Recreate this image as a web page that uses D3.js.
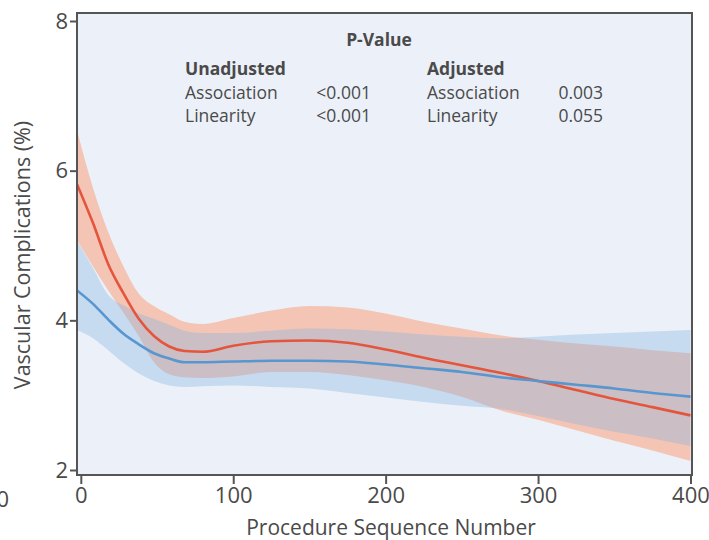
<!DOCTYPE html>
<html>
<head>
<meta charset="utf-8">
<script src="https://cdn.jsdelivr.net/npm/d3@7"></script>
<style>
  body { margin: 0; background: #fff; }
  text { font-family: "Open Sans", "Noto Sans", sans-serif; fill: #4a4a4a; }
</style>
</head>
<body>
<svg id="canvas" width="709" height="540"></svg>
<script>
// procedure sequence number grid (first point sits on the left frame)
const seqNum = [-2.5, 8, 18, 28, 38, 48, 58, 68, 80, 100, 125, 150, 175, 200, 225, 250, 275, 300, 325, 350, 375, 400]

// red curve + band
const redMid   = [5.82, 5.30, 4.75, 4.36, 4.02, 3.79, 3.65, 3.59, 3.58, 3.66, 3.72, 3.73, 3.70, 3.61, 3.50, 3.40, 3.30, 3.19, 3.07, 2.95, 2.84, 2.73]
const redUpper = [6.54, 5.77, 5.18, 4.72, 4.36, 4.19, 4.08, 3.98, 3.95, 4.03, 4.13, 4.19, 4.17, 4.09, 3.98, 3.89, 3.80, 3.74, 3.69, 3.65, 3.60, 3.56]
const redLower = [5.07, 4.72, 4.40, 4.10, 3.79, 3.44, 3.28, 3.24, 3.23, 3.25, 3.31, 3.31, 3.27, 3.20, 3.11, 2.98, 2.80, 2.67, 2.53, 2.39, 2.26, 2.12]

// blue curve + band
const blueMid   = [4.40, 4.22, 4.01, 3.82, 3.68, 3.56, 3.49, 3.44, 3.44, 3.45, 3.46, 3.46, 3.45, 3.41, 3.36, 3.31, 3.24, 3.19, 3.14, 3.09, 3.03, 2.98]
const blueUpper = [5.06, 4.70, 4.34, 4.20, 4.09, 4.02, 3.94, 3.86, 3.83, 3.83, 3.86, 3.89, 3.88, 3.85, 3.81, 3.78, 3.76, 3.78, 3.81, 3.83, 3.85, 3.87]
const blueLower = [3.87, 3.76, 3.60, 3.43, 3.29, 3.19, 3.13, 3.11, 3.12, 3.13, 3.11, 3.09, 3.03, 2.97, 2.91, 2.86, 2.82, 2.72, 2.61, 2.51, 2.42, 2.32]

const xTicks = [0, 100, 200, 300, 400]
const yTicks = [2, 4, 6, 8]

// p-value table
const pRows = ["Association", "Linearity"]
const pUnadj = ["<0.001", "<0.001"]
const pAdj = ["0.003", "0.055"]

const svg = d3.select("#canvas")
const fL = 77, fR = 692, fT = 13, fB = 475

const x = d3.scaleLinear().domain([-2.5, 401]).range([fL, fR])
const y = d3.scaleLinear().domain([2, 8]).range([470, 21])

// plot background
svg.append("rect")
  .attr("x", fL).attr("y", fT)
  .attr("width", fR - fL).attr("height", fB - fT)
  .attr("fill", "#ecf1f9")

svg.append("clipPath").attr("id", "clip")
  .append("rect")
  .attr("x", fL).attr("y", fT)
  .attr("width", fR - fL).attr("height", fB - fT)

const plot = svg.append("g").attr("clip-path", "url(#clip)")

const band = (lo, hi) => d3.area()
  .x((d, i) => x(seqNum[i]))
  .y0((d, i) => y(lo[i]))
  .y1((d, i) => y(hi[i]))
  .curve(d3.curveMonotoneX)(seqNum)

const line = (vals) => d3.line()
  .x((d, i) => x(seqNum[i]))
  .y((d, i) => y(vals[i]))
  .curve(d3.curveMonotoneX)(seqNum)

plot.append("path").attr("d", band(redLower, redUpper)).attr("fill", "#f4c5b5")
plot.append("path").attr("d", band(blueLower, blueUpper)).attr("fill", "rgb(132,180,226)").attr("fill-opacity", 0.37)

plot.append("path").attr("d", line(redMid)).attr("fill", "none").attr("stroke", "#e4553c").attr("stroke-width", 2.6)
plot.append("path").attr("d", line(blueMid)).attr("fill", "none").attr("stroke", "#5896d0").attr("stroke-width", 2.6)

// frame
svg.append("rect")
  .attr("x", fL).attr("y", fT)
  .attr("width", fR - fL).attr("height", fB - fT)
  .attr("fill", "none").attr("stroke", "#555").attr("stroke-width", 2)

// axes
const yAxis = svg.append("g")
  .attr("transform", `translate(${fL},0)`)
  .call(d3.axisLeft(y).tickValues(yTicks).tickFormat(d3.format("d")).tickSize(7).tickPadding(2))
yAxis.select(".domain").remove()

const xAxis = svg.append("g")
  .attr("transform", `translate(0,${fB})`)
  .call(d3.axisBottom(x).tickValues(xTicks).tickFormat(d3.format("d")).tickSize(9).tickPadding(3))
xAxis.select(".domain").remove()

svg.selectAll(".tick line").attr("stroke", "#555").attr("stroke-width", 2)
svg.selectAll(".tick text").style("font-size", "22px").style("fill", "#4a4a4a")

// clipped leftover label at the very left edge
svg.append("text")
  .attr("x", 9).attr("y", 507)
  .attr("text-anchor", "end")
  .style("font-size", "22px")
  .text("0")

// axis titles
svg.append("text")
  .attr("x", 391).attr("y", 535)
  .attr("text-anchor", "middle")
  .style("font-size", "21px")
  .text("Procedure Sequence Number")

svg.append("text")
  .attr("transform", "translate(30,255) rotate(-90)")
  .attr("text-anchor", "middle")
  .style("font-size", "21.5px")
  .text("Vascular Complications (%)")

// p-value annotation
const note = svg.append("g").style("font-size", "17.5px")
note.append("text").attr("x", 379).attr("y", 46).attr("text-anchor", "middle")
  .style("font-weight", "bold").text("P-Value")
note.append("text").attr("x", 185).attr("y", 75).style("font-weight", "bold").text("Unadjusted")
note.append("text").attr("x", 427).attr("y", 75).style("font-weight", "bold").text("Adjusted")

pRows.forEach((r, i) => {
  const yy = 99 + i * 23
  note.append("text").attr("x", 185).attr("y", yy).text(r)
  note.append("text").attr("x", 371).attr("y", yy).attr("text-anchor", "end").text(pUnadj[i])
  note.append("text").attr("x", 427).attr("y", yy).text(r)
  note.append("text").attr("x", 603).attr("y", yy).attr("text-anchor", "end").text(pAdj[i])
})
</script>
</body>
</html>
